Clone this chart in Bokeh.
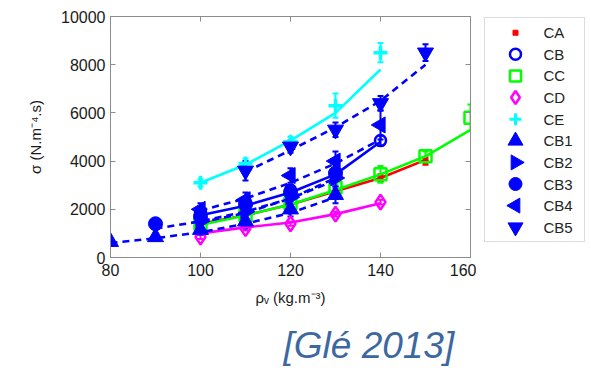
import math
from bokeh.plotting import figure
from bokeh.layouts import row
from bokeh.models import (ColumnDataSource, Whisker, TeeHead, BoxAnnotation,
                          LinearAxis, Title, FixedTicker, Range1d)
from bokeh.core.properties import value
from bokeh.embed import file_html
from bokeh.resources import INLINE

# ---------------- data ----------------
x_ticks = [80, 100, 120, 140, 160]
y_ticks = [0, 2000, 4000, 6000, 8000, 10000]

ca_x = [100, 110, 120, 130, 140, 150]
ca_y = [1350, 1700, 2150, 2700, 3300, 4000]
ca_err = [100, 100, 100, 150, 150, 150]
ca_fit = [1400, 1750, 2200, 2750, 3300, 4050]

cb_x = [100, 110, 120, 130, 140]
cb_y = [1900, 2300, 2800, 3400, 4850]
cb_err = [150, 200, 200, 250, 200]
cb_fit = [1750, 2150, 2700, 3450, 4800]

cc_x = [100, 110, 120, 130, 140, 150, 160]
cc_y = [1400, 1750, 2250, 2900, 3450, 4200, 5800]
cc_err = [100, 100, 150, 150, 350, 200, 550]
cc_fit = [1350, 1750, 2200, 2800, 3450, 4200, 5300]

cd_x = [100, 110, 120, 130, 140]
cd_y = [850, 1200, 1400, 1800, 2300]
cd_err = [80, 80, 80, 100, 100]
cd_fit = [1000, 1250, 1450, 1800, 2250]

ce_x = [100, 110, 120, 130, 140]
ce_y = [3100, 3900, 4800, 6300, 8500]
ce_err = [150, 200, 200, 500, 400]
ce_fit = [3100, 3850, 4850, 6000, 7800]

cb1_x = [80, 90, 100, 110, 120, 130]
cb1_y = [650, 850, 1150, 1500, 2000, 2600]
cb1_err = [100, 150, 200, 300, 300, 350]
cb1_fit = [600, 800, 1050, 1400, 1850, 2500]

cb2_x = [100, 110, 120, 130]
cb2_y = [1500, 1900, 2500, 3300]
cb2_err = [200, 300, 300, 350]
cb2_fit = [1450, 1850, 2450, 3300]

cb3_x = [90, 100, 110, 120, 130]
cb3_y = [1400, 1700, 2200, 2700, 3500]
cb3_err = [200, 200, 300, 300, 350]
cb3_fit = [1200, 1500, 1900, 2450, 3200]

cb4_x = [100, 110, 120, 130, 140]
cb4_y = [2000, 2400, 3400, 4000, 5500]
cb4_err = [250, 300, 300, 400, 600]
cb4_fit = [1950, 2450, 3100, 3900, 4900]

cb5_x = [110, 120, 130, 140, 150]
cb5_y = [3600, 4600, 5300, 6400, 8500]
cb5_err = [400, 250, 300, 300, 350]
cb5_fit = [3550, 4450, 5400, 6500, 8000]

labels = ["CA", "CB", "CC", "CD", "CE", "CB1", "CB2", "CB3", "CB4", "CB5"]

# ---------------- main figure ----------------
H = 379
MW = 476
TOP, FRAME_H = 16, 242
p = figure(width=MW, height=H, output_backend="svg", toolbar_location=None,
           x_range=Range1d(80, 160), y_range=Range1d(0, 10000),
           min_border_left=110, min_border_right=MW - 110 - 360, min_border_top=TOP,
           min_border_bottom=H - TOP - FRAME_H)
p.xgrid.visible = False
p.ygrid.visible = False
p.outline_line_color = "#8c8c8c"
p.background_fill_color = "white"
p.border_fill_color = "white"

BLUE = "#0000ff"
series = [
    ("CA", ca_x, ca_y, ca_err, ca_fit, "#ff0000", "solid"),
    ("CB", cb_x, cb_y, cb_err, cb_fit, BLUE, "solid"),
    ("CC", cc_x, cc_y, cc_err, cc_fit, "#00ff00", "solid"),
    ("CD", cd_x, cd_y, cd_err, cd_fit, "#ff00ff", "solid"),
    ("CE", ce_x, ce_y, ce_err, ce_fit, "#00ffff", "solid"),
    ("CB1", cb1_x, cb1_y, cb1_err, cb1_fit, BLUE, "7 5"),
    ("CB2", cb2_x, cb2_y, cb2_err, cb2_fit, BLUE, "7 5"),
    ("CB3", cb3_x, cb3_y, cb3_err, cb3_fit, BLUE, "7 5"),
    ("CB4", cb4_x, cb4_y, cb4_err, cb4_fit, BLUE, "7 5"),
    ("CB5", cb5_x, cb5_y, cb5_err, cb5_fit, BLUE, "7 5"),
]

marker_style = {
    "CA": dict(marker="square", size=5, fill_alpha=1.0, angle=0.0, lw=1),
    "CB": dict(marker="circle", size=11, fill_alpha=0.0, angle=0.0, lw=2.5),
    "CC": dict(marker="square", size=12, fill_alpha=0.0, angle=0.0, lw=2.5),
    "CD": dict(marker="diamond", size=15, fill_alpha=0.0, angle=0.0, lw=2.5),
    "CE": dict(marker="cross", size=14, fill_alpha=0.0, angle=0.0, lw=3.5),
    "CB1": dict(marker="triangle", size=16, fill_alpha=1.0, angle=0.0, lw=1),
    "CB2": dict(marker="triangle", size=16, fill_alpha=1.0, angle=-math.pi / 2, lw=1),
    "CB3": dict(marker="circle", size=14, fill_alpha=1.0, angle=0.0, lw=1),
    "CB4": dict(marker="triangle", size=16, fill_alpha=1.0, angle=math.pi / 2, lw=1),
    "CB5": dict(marker="inverted_triangle", size=16, fill_alpha=1.0, angle=0.0, lw=1),
}
legend_size = {"CA": 5, "CB": 11, "CC": 11, "CD": 13, "CE": 12,
               "CB1": 15, "CB2": 15, "CB3": 13, "CB4": 15, "CB5": 15}

for name, xs, ys, errs, fits, color, dash in series:
    src = ColumnDataSource(dict(
        x=xs, y=ys, fit=fits,
        lower=[a - b for a, b in zip(ys, errs)],
        upper=[a + b for a, b in zip(ys, errs)],
    ))
    p.line("x", "fit", source=src, line_color=color, line_width=2.6,
           line_dash=dash)
    w = Whisker(base="x", lower="lower", upper="upper", source=src,
                line_color=color, line_width=2,
                upper_head=TeeHead(size=6, line_color=color, line_width=2),
                lower_head=TeeHead(size=6, line_color=color, line_width=2))
    p.add_layout(w)
    st = marker_style[name]
    p.scatter("x", "y", source=src, marker=st["marker"], size=st["size"],
              angle=st["angle"], line_color=color, fill_color=color,
              fill_alpha=st["fill_alpha"], line_width=st["lw"])

# ---------------- axes ----------------
for ax in [p.xaxis[0], p.yaxis[0]]:
    ax.axis_line_color = "#8c8c8c"
    ax.major_tick_line_color = "#8c8c8c"
    ax.major_tick_in = 5
    ax.major_tick_out = 0
    ax.minor_tick_line_color = None
    ax.major_label_text_font = "Liberation Sans"
    ax.major_label_text_font_size = "16px"
    ax.major_label_text_color = "#1a1a1a"
    ax.axis_label_text_font = "Liberation Sans"
    ax.axis_label_text_font_size = "15px"
    ax.axis_label_text_font_style = "normal"
    ax.axis_label_text_color = "#1a1a1a"

p.xaxis.ticker = FixedTicker(ticks=x_ticks)
p.yaxis.ticker = FixedTicker(ticks=y_ticks)
p.xaxis.major_label_standoff = 6
p.yaxis.major_label_standoff = 5
p.xaxis.axis_label = "ρᵥ (kg.m⁻³)"
p.yaxis.axis_label = "σ (N.m⁻⁴.s)"
p.xaxis.axis_label_standoff = 10
p.yaxis.axis_label_standoff = 14

for loc, ticks in [("right", y_ticks), ("above", x_ticks)]:
    ax = LinearAxis(ticker=FixedTicker(ticks=ticks))
    ax.axis_line_color = "#8c8c8c"
    ax.major_tick_line_color = "#8c8c8c"
    ax.major_tick_in = 5
    ax.major_tick_out = 0
    ax.minor_tick_line_color = None
    ax.major_label_text_font_size = "0px"
    ax.major_label_text_color = None
    ax.major_label_standoff = 0
    p.add_layout(ax, loc)

# ---------------- citation ----------------
cite = Title(text="[Glé 2013]", text_font="Liberation Sans",
             text_font_size="37px", text_font_style="italic",
             text_color="#3c68a0", align="left", offset=173, standoff=28)
p.add_layout(cite, "below")

# ---------------- legend panel (page-pixel coordinates) ----------------
LW = 590 - MW
lf = figure(width=LW, height=H, output_backend="svg", toolbar_location=None,
            x_range=Range1d(MW, MW + LW), y_range=Range1d(TOP + FRAME_H, TOP),
            min_border_left=0, min_border_right=0, min_border_top=TOP,
            min_border_bottom=H - TOP - FRAME_H, x_axis_type=None, y_axis_type=None)
lf.xgrid.visible = False
lf.ygrid.visible = False
lf.outline_line_color = None
lf.background_fill_color = "white"
lf.border_fill_color = "white"

lf.add_layout(BoxAnnotation(left=484, right=584, top=17, bottom=242,
                            fill_color=None, line_color="#8c8c8c", line_width=1,
                            level="underlay"))
first_row = 32.3
pitch = 21.7
for i, (name, xs, ys, errs, fits, color, dash) in enumerate(series):
    st = marker_style[name]
    ry = first_row + i * pitch
    lsrc = ColumnDataSource(dict(x=[515], y=[ry], t=[labels[i]]))
    lf.scatter("x", "y", source=lsrc, marker=st["marker"], size=legend_size[name],
               angle=st["angle"], line_color=color, fill_color=color,
               fill_alpha=st["fill_alpha"],
               line_width=min(st["lw"], 3.0))
    lf.text(x=543, y="y", text="t", source=lsrc, text_font=value("Liberation Sans"),
            text_font_size="15px", text_color="#222222", text_baseline="middle",
            text_align="left")

layout = row(p, lf)
open("out.html", "w").write(file_html(layout, INLINE))
